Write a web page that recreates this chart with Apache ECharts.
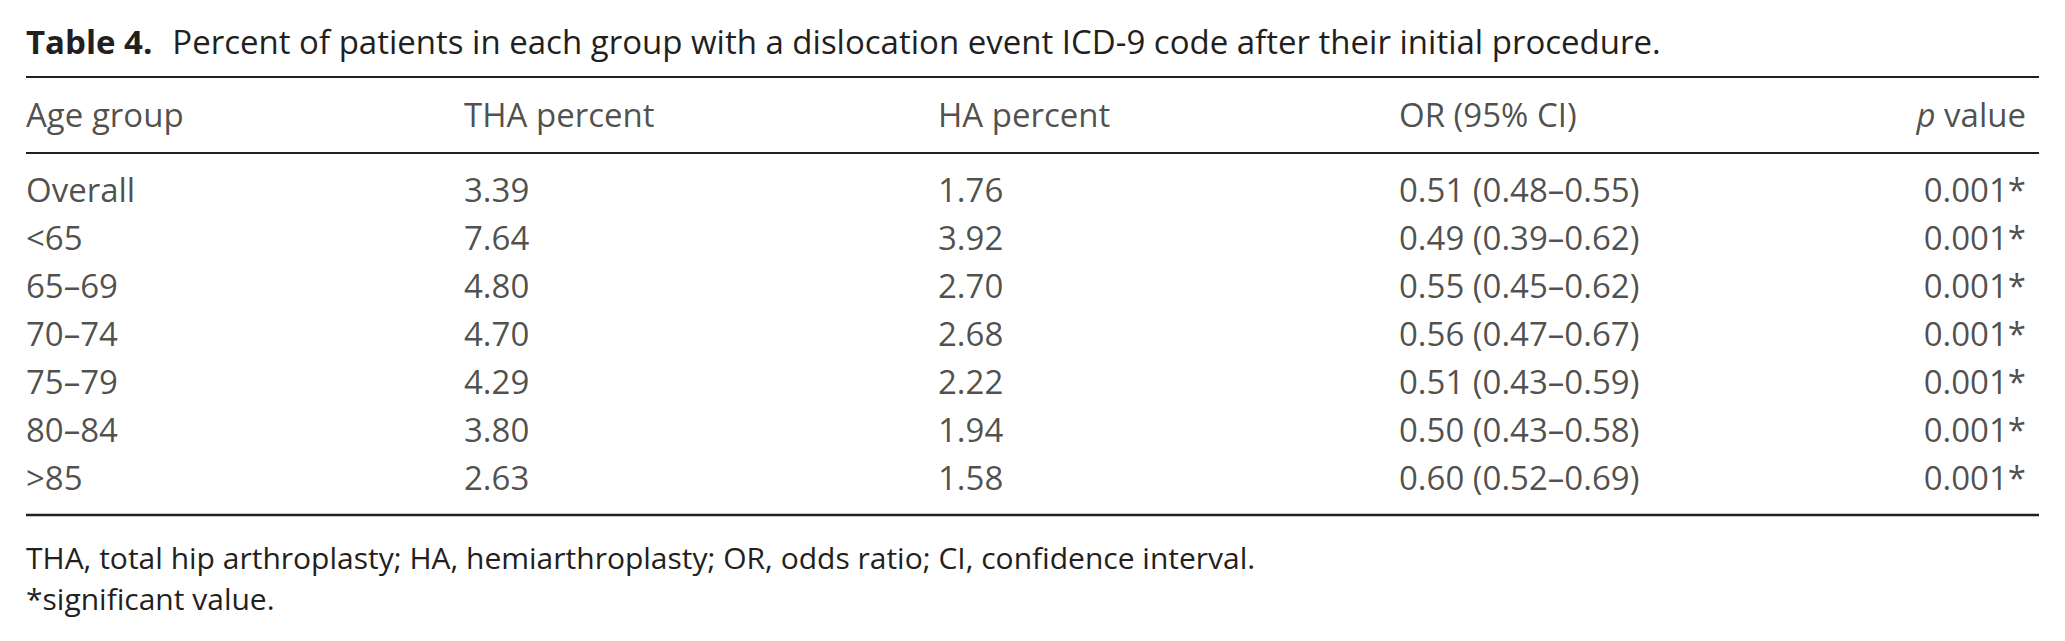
<!DOCTYPE html>
<html>
<head>
<meta charset="utf-8">
<script src="https://cdn.jsdelivr.net/npm/echarts@6/dist/echarts.min.js"></script>
<style>
  html, body { margin: 0; padding: 0; background: #fff; }
  #main { width: 2065px; height: 641px; }
</style>
</head>
<body>
<div id="main"></div>
<script>
// table content
const headers = ['Age group', 'THA percent', 'HA percent', 'OR (95% CI)', 'p value'];
const ageGroups = ['Overall', '<65', '65–69', '70–74', '75–79', '80–84', '>85'];
const thaPercent = ['3.39', '7.64', '4.80', '4.70', '4.29', '3.80', '2.63'];
const haPercent = ['1.76', '3.92', '2.70', '2.68', '2.22', '1.94', '1.58'];
const oddsRatio = ['0.51', '0.49', '0.55', '0.56', '0.51', '0.50', '0.60'];
const ciLow = ['0.48', '0.39', '0.45', '0.47', '0.43', '0.43', '0.52'];
const ciHigh = ['0.55', '0.62', '0.62', '0.67', '0.59', '0.58', '0.69'];
const pValues = ['0.001*', '0.001*', '0.001*', '0.001*', '0.001*', '0.001*', '0.001*'];

const titleBold = 'Table 4.';
const titleText = 'Percent of patients in each group with a dislocation event ICD-9 code after their initial procedure.';
const footnotes = [
  'THA, total hip arthroplasty; HA, hemiarthroplasty; OR, odds ratio; CI, confidence interval.',
  '*significant value.'
];

const columns = [
  ageGroups,
  thaPercent,
  haPercent,
  oddsRatio.map((v, i) => v + ' (' + ciLow[i] + '–' + ciHigh[i] + ')'),
  pValues
];

// layout
const W = 2065;
const colX = [26, 464, 938, 1399, 2026];
const FONT = '"Open Sans", Lato, sans-serif';
const FS = 33;
const FS_NOTE = 30;
const INK = '#231f20';

const chart = echarts.init(document.getElementById('main'), null, { renderer: 'svg' });

const series = [];
columns.forEach((col, c) => {
  const last = c === columns.length - 1;
  series.push({
    type: 'scatter',
    xAxisIndex: 0,
    yAxisIndex: 0,
    symbolSize: 0,
    silent: true,
    data: col.map((v, i) => [colX[c], ageGroups[i]]),
    label: {
      show: true,
      position: last ? 'left' : 'right',
      distance: 0,
      color: INK,
      fontFamily: FONT,
      fontSize: FS,
      formatter: p => col[p.dataIndex]
    }
  });
  series.push({
    type: 'scatter',
    xAxisIndex: 1,
    yAxisIndex: 1,
    symbolSize: 0,
    silent: true,
    data: [[colX[c], 'header']],
    label: {
      show: true,
      position: last ? 'left' : 'right',
      distance: 0,
      color: INK,
      fontFamily: FONT,
      fontSize: FS,
      formatter: last ? '{i|p} value' : headers[c],
      rich: { i: { fontStyle: 'italic', fontFamily: FONT, fontSize: FS, color: INK } }
    }
  });
});

const hidden = { show: false };
chart.setOption({
  backgroundColor: '#fff',
  animation: false,
  grid: [
    { left: 0, right: 0, top: 165, height: 336 },
    { left: 0, right: 0, top: 94, height: 40 }
  ],
  xAxis: [
    { type: 'value', min: 0, max: W, gridIndex: 0, axisLine: hidden, axisTick: hidden, axisLabel: hidden, splitLine: hidden },
    { type: 'value', min: 0, max: W, gridIndex: 1, axisLine: hidden, axisTick: hidden, axisLabel: hidden, splitLine: hidden }
  ],
  yAxis: [
    { type: 'category', data: ageGroups, inverse: true, gridIndex: 0, axisLine: hidden, axisTick: hidden, axisLabel: hidden, splitLine: hidden },
    { type: 'category', data: ['header'], gridIndex: 1, axisLine: hidden, axisTick: hidden, axisLabel: hidden, splitLine: hidden }
  ],
  series: series,
  graphic: [
    {
      type: 'text', x: 26, y: 41,
      style: {
        text: '{b|' + titleBold + '}' + titleText,
        fill: INK, font: FS + 'px ' + FONT, verticalAlign: 'middle',
        rich: { b: { fontWeight: 'bold', fontFamily: FONT, fontSize: FS, fill: INK, padding: [0, 20, 0, 0] } }
      }
    },
    { type: 'line', shape: { x1: 26, y1: 77, x2: 2039, y2: 77 }, style: { stroke: INK, lineWidth: 2 } },
    { type: 'line', shape: { x1: 26, y1: 153, x2: 2039, y2: 153 }, style: { stroke: INK, lineWidth: 2 } },
    { type: 'line', shape: { x1: 26, y1: 515, x2: 2039, y2: 515 }, style: { stroke: INK, lineWidth: 2.5 } },
    {
      type: 'text', x: 26, y: 557,
      style: { text: footnotes[0], fill: INK, font: FS_NOTE + 'px ' + FONT, verticalAlign: 'middle' }
    },
    {
      type: 'text', x: 26, y: 598,
      style: { text: footnotes[1], fill: INK, font: FS_NOTE + 'px ' + FONT, verticalAlign: 'middle' }
    }
  ]
});
</script>
</body>
</html>
